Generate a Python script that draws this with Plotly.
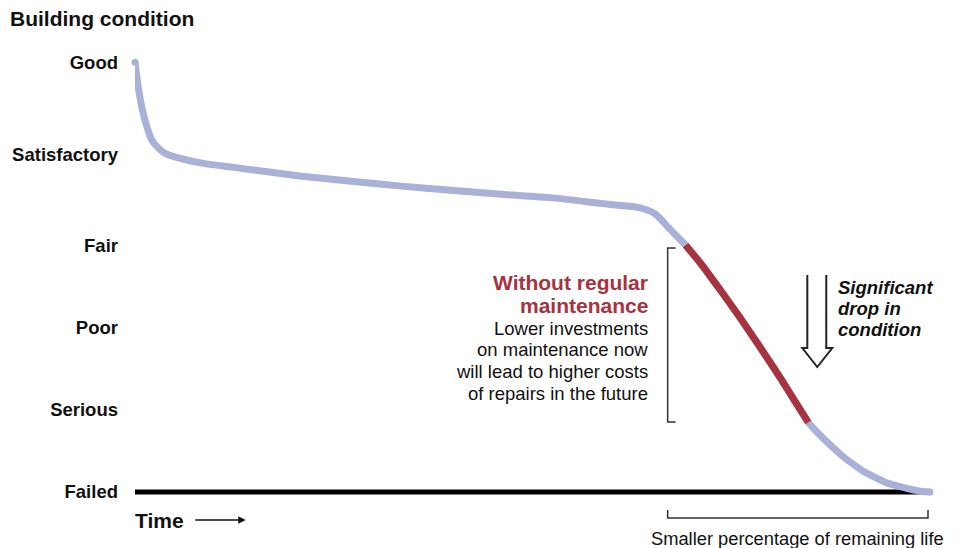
import plotly.graph_objects as go

# ---- data ----
condition_labels = ["Failed", "Serious", "Poor", "Fair", "Satisfactory", "Good"]
condition_levels = [0, 1.0, 2.0, 3.01, 4.12, 5.24]

# time as % of life span, condition score
time_pct = [0, 0.38, 0.88, 1.51, 2.13, 2.89, 3.76, 4.89, 8.41, 14.68, 20.95, 27.23,
            33.50, 39.77, 46.05, 52.32, 58.59, 61.10, 62.99, 64.24, 65.24, 66.12,
            67.13, 68.13, 69.26, 71.14, 73.65, 76.16, 78.67, 81.18, 83.06, 84.69,
            86.83, 89.34, 91.84, 94.35, 96.86, 98.75, 100]
condition = [5.24, 4.96, 4.68, 4.45, 4.29, 4.20, 4.13, 4.09, 4.01, 3.93, 3.85, 3.79,
             3.73, 3.68, 3.63, 3.59, 3.52, 3.494, 3.476, 3.445, 3.402, 3.329,
             3.22, 3.122, 3.01, 2.79, 2.46, 2.12, 1.76, 1.39, 1.10, 0.85,
             0.63, 0.41, 0.24, 0.12, 0.05, 0.01, 0]
red_start, red_end = 24, 31   # indices of the "without maintenance" segment
failed_line_x = [0, 100]
failed_line_y = [0, 0]

# ---- layout helpers (pixel -> paper units) ----
PL, PW = 133, 797     # plot area left, width
PT, PH = 33, 500      # plot area top, height
PY0, PYU = 492, 82
def px2y(py): return (PY0 - py) / PYU
def ppx(px): return (px - PL) / PW
def ppy(py): return (PT + PH - py) / PH

FONT = "Arial, 'Liberation Sans', sans-serif"
BLUE = "#a9b1d8"
RED = "#a8323e"
DARK = "#222222"

fig = go.Figure()
fig.add_trace(go.Scatter(x=failed_line_x, y=failed_line_y, mode="lines",
                         line=dict(color="black", width=5), cliponaxis=False,
                         hoverinfo="skip"))
fig.add_trace(go.Scatter(x=time_pct, y=condition, mode="lines",
                         line=dict(color=BLUE, width=7, shape="spline", smoothing=0.4),
                         cliponaxis=False))
# round line ends
fig.add_trace(go.Scatter(x=[time_pct[0], time_pct[-1]], y=[condition[0], condition[-1]],
                         mode="markers", marker=dict(color=BLUE, size=7, line=dict(width=0)),
                         cliponaxis=False))
fig.add_trace(go.Scatter(x=time_pct[red_start:red_end + 1], y=condition[red_start:red_end + 1],
                         mode="lines", line=dict(color=RED, width=7, shape="spline", smoothing=0.4),
                         cliponaxis=False))

ann = []
def text(px, py, t, size, anchor="left", color=DARK, bold=False, italic=False):
    s = t
    if bold:
        s = "<b>" + s + "</b>"
    if italic:
        s = "<i>" + s + "</i>"
    ann.append(dict(x=ppx(px), y=ppy(py), xref="paper", yref="paper", text=s, showarrow=False,
                    xanchor=anchor, yanchor="middle",
                    font=dict(family=FONT, size=size, color=color)))

text(649, 282, "Without regular", 21, "right", RED, bold=True)
text(649, 305, "maintenance", 21, "right", RED, bold=True)
for i, line in enumerate(["Lower investments", "on maintenance now",
                          "will lead to higher costs", "of repairs in the future"]):
    text(649, 328 + i * 21.7, line, 18.5, "right", "#111111")
for i, line in enumerate(["Significant", "drop in", "condition"]):
    text(836, 287 + i * 21, line, 18.5, "left", "#111111", bold=True, italic=True)
text(797, 538, "Smaller percentage of remaining life", 18.3, "center", "#111111")
text(131, 520, "Time", 21, "left", "#111111", bold=True)

ann.append(dict(x=ppx(244), y=ppy(520), xref="paper", yref="paper", ax=-52, ay=0,
                text="", showarrow=True, arrowhead=2, arrowsize=1, arrowwidth=1.5,
                arrowcolor="#111111"))

def path(points):
    return "M " + " L ".join(f"{ppx(a)},{ppy(b)}" for a, b in points)

shapes = [
    dict(type="path", xref="paper", yref="paper",
         path=path([(675, 248), (667, 248), (667, 422), (675, 422)]),
         line=dict(color="#333333", width=1.5)),
    dict(type="path", xref="paper", yref="paper",
         path=path([(667, 510), (667, 518), (928, 518), (928, 510)]),
         line=dict(color="#333333", width=1.5)),
    dict(type="path", xref="paper", yref="paper",
         path=path([(807, 275), (807, 348), (802, 348), (817, 367),
                    (832, 348), (826, 348), (826, 275)]),
         line=dict(color=DARK, width=2)),
]

fig.update_layout(
    width=961, height=548,
    margin=dict(l=PL, r=961 - PL - PW, t=PT, b=548 - PT - PH),
    paper_bgcolor="white", plot_bgcolor="white",
    showlegend=False,
    title=dict(text="<b>Building condition</b>", x=10 / 961, xanchor="left",
               y=1 - 19 / 548, yanchor="middle",
               font=dict(family=FONT, size=21, color="#111111")),
    xaxis=dict(range=[0, 100], visible=False, fixedrange=True),
    yaxis=dict(range=[px2y(PT + PH), px2y(PT)], tickvals=condition_levels,
               ticktext=["<b>" + t + "</b>" for t in condition_labels],
               showgrid=False, zeroline=False, showline=False, ticks="",
               ticklabelstandoff=16,
               tickfont=dict(family=FONT, size=18.5, color="#111111"), fixedrange=True),
    annotations=ann, shapes=shapes,
)

fig.write_html("out.html", config={"displayModeBar": False},
               post_script="document.body.style.margin='0';")
